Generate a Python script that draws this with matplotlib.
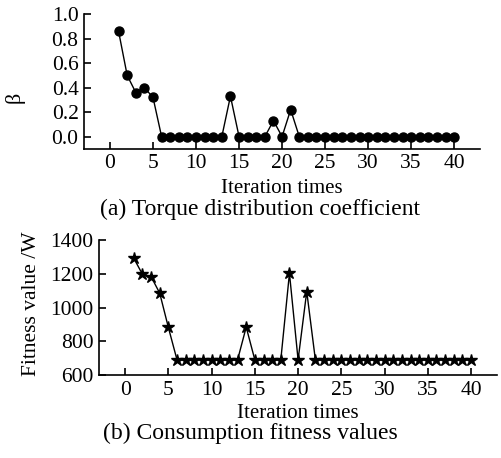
import numpy as np
import matplotlib
matplotlib.use("Agg")
import matplotlib.pyplot as plt

plt.rcParams['font.family'] = ['Liberation Serif', 'DejaVu Serif']
plt.rcParams['mathtext.fontset'] = 'stix'

# data
iterations = np.arange(1, 41)
beta = [0.86, 0.50, 0.36, 0.40, 0.32, 0.0, 0.0, 0.0, 0.0, 0.0,
        0.0, 0.0, 0.0, 0.33, 0.0, 0.0, 0.0, 0.0, 0.13, 0.0,
        0.22, 0.0, 0.0, 0.0, 0.0, 0.0, 0.0, 0.0, 0.0, 0.0,
        0.0, 0.0, 0.0, 0.0, 0.0, 0.0, 0.0, 0.0, 0.0, 0.0]
fitness = [1292, 1197, 1183, 1085, 882, 690, 690, 690, 690, 690,
           690, 690, 690, 884, 690, 690, 690, 690, 1203, 690,
           1095, 690, 690, 690, 690, 690, 690, 690, 690, 690,
           690, 690, 690, 690, 690, 690, 690, 690, 690, 690]
xticks = [0, 5, 10, 15, 20, 25, 30, 35, 40]
beta_ticks = [0.0, 0.2, 0.4, 0.6, 0.8, 1.0]
fit_ticks = [600, 800, 1000, 1200, 1400]

fig = plt.figure(figsize=(5.01, 4.58), dpi=100)
ax1 = fig.add_axes([0.168, 0.675, 0.790, 0.294])
ax2 = fig.add_axes([0.198, 0.181, 0.794, 0.295])


def style(ax):
    ax.spines['top'].set_visible(False)
    ax.spines['right'].set_visible(False)
    for s in ['left', 'bottom']:
        ax.spines[s].set_linewidth(1.2)
    ax.tick_params(direction='in', length=5, width=1.2, labelsize=15.5,
                   pad=4)
    ax.set_xlim(-3, 43)
    ax.set_xticks(xticks)


# (a) torque distribution coefficient
ax1.plot(iterations, beta, color='black', linewidth=1.0, marker='o',
         markersize=6.5)
ax1.set_ylim(-0.1, 1.0)
ax1.set_yticks(beta_ticks)
ax1.set_yticklabels(['%.1f' % v for v in beta_ticks])
style(ax1)

# (b) consumption fitness values
ax2.plot(iterations, fitness, color='black', linewidth=1.0, marker='*',
         markersize=9)
ax2.set_ylim(600, 1400)
ax2.set_yticks(fit_ticks)
style(ax2)

fig.text(0.03, 1 - 97 / 458, 'β', fontsize=16, rotation=90,
         ha='center', va='center')
fig.text(282 / 501, 1 - 188 / 458, 'Iteration times', fontsize=15,
         ha='center', va='center')
fig.text(260 / 501, 1 - 209 / 458, '(a) Torque distribution coefficient',
         fontsize=17, ha='center', va='center')

fig.text(32 / 501, 1 - 304 / 458, 'Fitness value /W', fontsize=15.5,
         rotation=90, ha='center', va='center')
fig.text(298 / 501, 1 - 413 / 458, 'Iteration times', fontsize=15,
         ha='center', va='center')
fig.text(250 / 501, 1 - 433 / 458, '(b) Consumption fitness values',
         fontsize=17, ha='center', va='center')

fig.savefig('out.png', dpi=100)
